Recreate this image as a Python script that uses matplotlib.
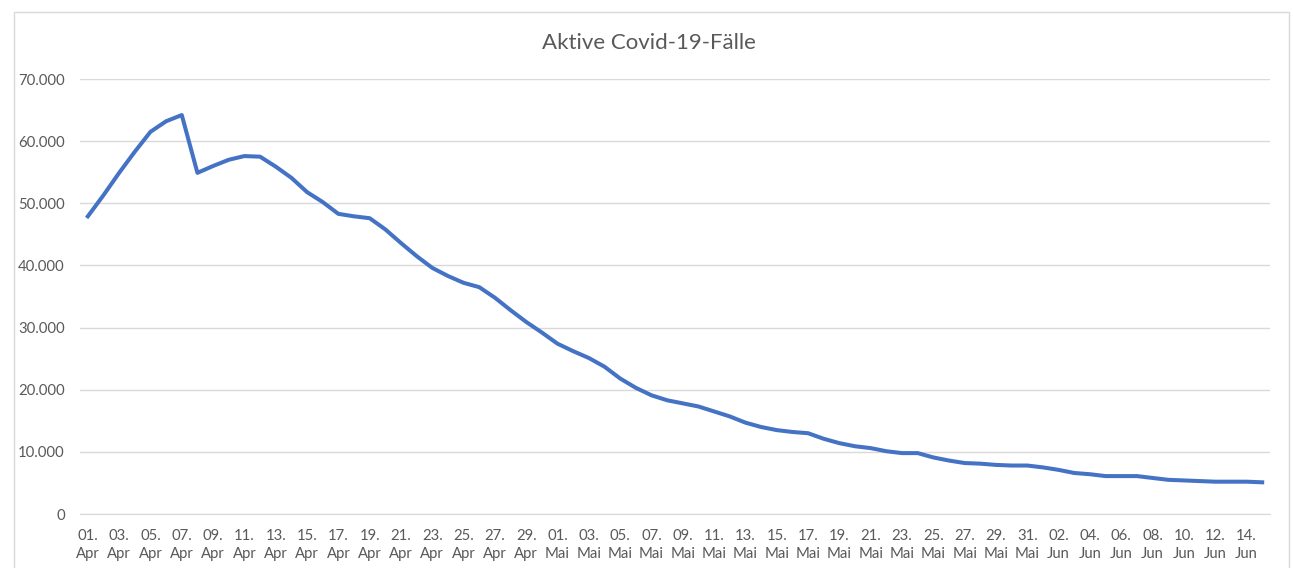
import pandas as pd
import numpy as np
import matplotlib
matplotlib.use("Agg")
import matplotlib.pyplot as plt
from matplotlib.patches import Rectangle
from matplotlib.ticker import FuncFormatter

plt.rcParams['font.family'] = ['Lato', 'DejaVu Sans']

# aktive Fälle pro Tag ab 01.04.
start_date = "2020-04-01"
active_cases = [
    47900, 51300, 54900, 58300, 61500, 63200, 64200, 54900, 56000, 57000,
    57600, 57500, 55900, 54100, 51800, 50200, 48300, 47900, 47600, 45800,
    43600, 41500, 39600, 38300, 37200, 36500, 34800, 32800, 30900, 29200,
    27400, 26200, 25100, 23700, 21800, 20300, 19100, 18300, 17800, 17300,
    16500, 15700, 14700, 14000, 13500, 13200, 13000, 12100, 11400, 10900,
    10600, 10100, 9800, 9800, 9100, 8600, 8200, 8100, 7900, 7800,
    7800, 7500, 7100, 6600, 6400, 6100, 6100, 6100, 5800, 5500,
    5400, 5300, 5200, 5200, 5200, 5100,
]
month_names = {4: "Apr", 5: "Mai", 6: "Jun"}
y_ticks = [0, 10000, 20000, 30000, 40000, 50000, 60000, 70000]

dates = pd.date_range(start_date, periods=len(active_cases), freq="D")
x = np.arange(len(active_cases))

fig = plt.figure(figsize=(12.93, 5.68), dpi=100)
fig.patch.set_facecolor("white")
fig.patches.append(Rectangle((14 / 1293, -0.05), (1289 - 14) / 1293, 1.05 - 12 / 568,
                             transform=fig.transFigure, fill=False,
                             edgecolor="#D9D9D9", lw=1))

ax = fig.add_axes([80 / 1293, 54 / 568, 1190 / 1293, 435 / 568])
ax.plot(x, active_cases, color="#4472C4", lw=2.9, solid_joinstyle="round")

ax.set_xlim(-0.5, len(active_cases) - 0.5)
ax.set_ylim(0, 70000)
ax.set_yticks(y_ticks)
ax.yaxis.set_major_formatter(FuncFormatter(lambda v, p: f"{int(v):,}".replace(",", ".")))
ax.grid(axis="y", color="#D9D9D9", lw=1)
ax.set_axisbelow(True)

labels = [f"{d.day:02d}.\n{month_names[d.month]}" for d in dates[::2]]
ax.set_xticks(x[::2])
ax.set_xticklabels(labels, linespacing=1.35)

for s in ["top", "right", "left"]:
    ax.spines[s].set_visible(False)
ax.spines["bottom"].set_color("#D9D9D9")
ax.tick_params(axis="both", length=0, colors="#595959", labelsize=10.7)
ax.tick_params(axis="x", pad=11)
ax.tick_params(axis="y", pad=11)

fig.text(649 / 1293, 1 - 43 / 568, "Aktive Covid-19-Fälle", ha="center", va="center",
         fontsize=16, color="#595959")

fig.savefig("out.png", dpi=100, facecolor="white")
